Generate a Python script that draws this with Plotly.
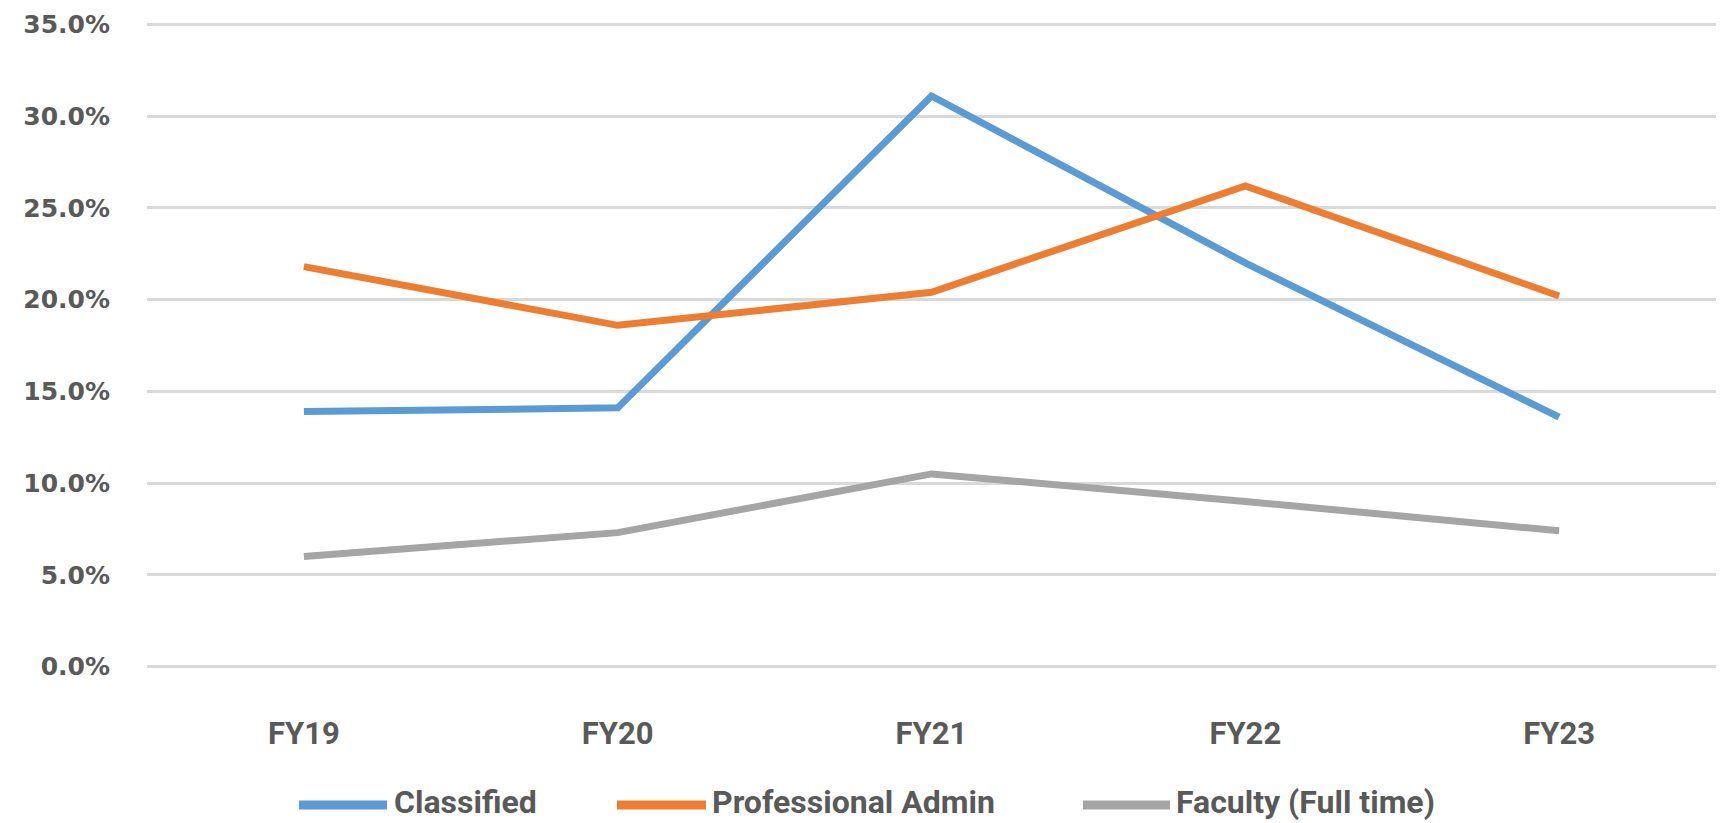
import plotly.graph_objects as go

# Fiscal years on the category axis
years = ["FY19", "FY20", "FY21", "FY22", "FY23"]

# Turnover rate by employee group (fractions, shown as percentages)
classified = [0.139, 0.141, 0.311, 0.220, 0.136]
professional_admin = [0.218, 0.186, 0.204, 0.262, 0.202]
faculty_full_time = [0.060, 0.073, 0.105, 0.090, 0.074]

series = [
    ("Classified", classified, "#5B9BD5"),
    ("Professional Admin", professional_admin, "#ED7D31"),
    ("Faculty (Full time)", faculty_full_time, "#A5A5A5"),
]

label_color = "#595959"

# Figure geometry (pixels)
W, H = 1722, 823
M_L, M_R, M_T, M_B = 147, 6, 23, 155
plot_w = W - M_L - M_R
plot_h = H - M_T - M_B

fig = go.Figure()
for name, values, color in series:
    fig.add_trace(
        go.Scatter(
            x=years,
            y=values,
            name=name,
            mode="lines",
            line=dict(color=color, width=7),
            hovertemplate="%{x}: %{y:.1%}<extra>" + name + "</extra>",
            showlegend=False,
        )
    )

# Legend row below the axis: a swatch line followed by the series name
legend_y_px = 802
legend_items = [(299, 387, 393), (617, 706, 711), (1083, 1170, 1175)]


def px_to_paper_x(px):
    return (px - M_L) / plot_w


def px_to_paper_y(py):
    return (H - M_B - py) / plot_h


for (name, _, color), (x0, x1, xt) in zip(series, legend_items):
    fig.add_shape(
        type="line",
        xref="paper",
        yref="paper",
        x0=px_to_paper_x(x0),
        x1=px_to_paper_x(x1),
        y0=px_to_paper_y(legend_y_px + 3),
        y1=px_to_paper_y(legend_y_px + 3),
        line=dict(color=color, width=9),
    )
    fig.add_annotation(
        xref="paper",
        yref="paper",
        x=px_to_paper_x(xt),
        y=px_to_paper_y(legend_y_px),
        xanchor="left",
        yanchor="middle",
        text=name,
        showarrow=False,
        borderpad=0,
        font=dict(family="Roboto", size=32, color=label_color, weight="bold"),
    )

fig.update_layout(
    width=W,
    height=H,
    margin=dict(l=M_L, r=M_R, t=M_T, b=M_B),
    paper_bgcolor="white",
    plot_bgcolor="white",
    showlegend=False,
)

fig.update_xaxes(
    type="category",
    range=[-0.5, 4.5],
    showgrid=False,
    zeroline=False,
    showline=False,
    ticks="",
    tickfont=dict(family="Roboto", size=31, color=label_color, weight="bold"),
    ticklabelstandoff=44,
)

fig.update_yaxes(
    range=[-0.0008, 0.3508],
    tickmode="linear",
    dtick=0.05,
    tick0=0,
    tickformat=".1%",
    showgrid=True,
    gridcolor="#D9D9D9",
    gridwidth=2.5,
    zeroline=False,
    showline=False,
    ticks="",
    tickfont=dict(family="DejaVu Sans", size=25, color=label_color, weight="bold"),
    ticklabelstandoff=36,
)

fig.write_html("out.html")
